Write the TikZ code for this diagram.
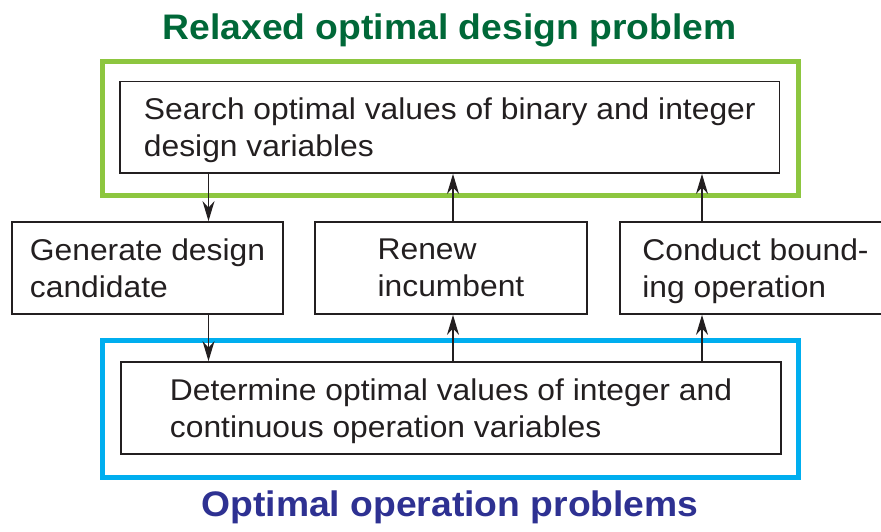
\documentclass[tikz,border=0pt]{standalone}
\usepackage{fontspec}
\setmainfont[FakeStretch=1.06]{Liberation Sans}
\newfontfamily\headfont[FakeStretch=1.05]{Liberation Sans}
\usepackage{tikz}
\usetikzlibrary{positioning, arrows.meta}

\definecolor{framegreen}{RGB}{141,198,63}
\definecolor{frameblue}{RGB}{0,174,239}
\definecolor{titlegreen}{RGB}{0,104,56}
\definecolor{titleblue}{RGB}{46,49,146}
\definecolor{boxline}{RGB}{35,31,32}

\begin{document}
\begin{tikzpicture}[x=1pt, y=-1pt,
	stepbox/.style={draw=boxline, line width=1.8pt, align=left, text=boxline, inner sep=0pt,
		font=\fontsize{30}{37}\selectfont, text depth=0pt},
	probframe/.style={line width=5pt, inner sep=0pt},
	heading/.style={font=\headfont\bfseries\fontsize{35.5}{40}\selectfont, anchor=base},
	flow/.style={draw=boxline, line width=1.4pt, -{Stealth[length=20pt, width=12pt]}}]
	\useasboundingbox (0,0) rectangle (881,532);

	% Problem frames
	\node[probframe, draw=framegreen, minimum width=696pt, minimum height=133pt] (relaxed) at (450,128.5) {};
	\node[probframe, draw=frameblue, minimum width=696pt, minimum height=137.5pt] (operation) at (450,408.75) {};

	% Steps
	\node[stepbox, minimum width=659.5pt, minimum height=91.5pt] (search) at (449.75,127.25)
		{Search optimal values of binary and integer\\design variables};
	\node[stepbox, minimum width=271pt, minimum height=92pt] (generate) at (147.5,268)
		{Generate design\\candidate};
	\node[stepbox, minimum width=272pt, minimum height=92pt] (renew) at (451,268)
		{Renew\\incumbent};
	\node[stepbox, minimum width=271pt, minimum height=92pt] (bound) at (755.5,268)
		{Conduct bound-\\ing operation};
	\node[stepbox, minimum width=660pt, minimum height=92pt] (determine) at (451,408)
		{Determine optimal values of integer and\\continuous operation variables};

	% Frame titles
	\node[heading, text=titlegreen] (relaxedtitle) at (449.5,39.3) {Relaxed optimal design problem};
	\node[heading, text=titleblue] (operationtitle) at (450,516.7) {Optimal operation problems};

	% Flow between the steps
	\coordinate (genline) at (208.5,0);
	\coordinate (renewline) at (453,0);
	\coordinate (boundline) at (702,0);
	\draw[flow] (search.south -| genline) -- (generate.north -| genline);
	\draw[flow] (generate.south -| genline) -- (determine.north -| genline);
	\draw[flow] (renew.north -| renewline) -- (search.south -| renewline);
	\draw[flow] (determine.north -| renewline) -- (renew.south -| renewline);
	\draw[flow] (bound.north -| boundline) -- (search.south -| boundline);
	\draw[flow] (determine.north -| boundline) -- (bound.south -| boundline);
\end{tikzpicture}
\end{document}
